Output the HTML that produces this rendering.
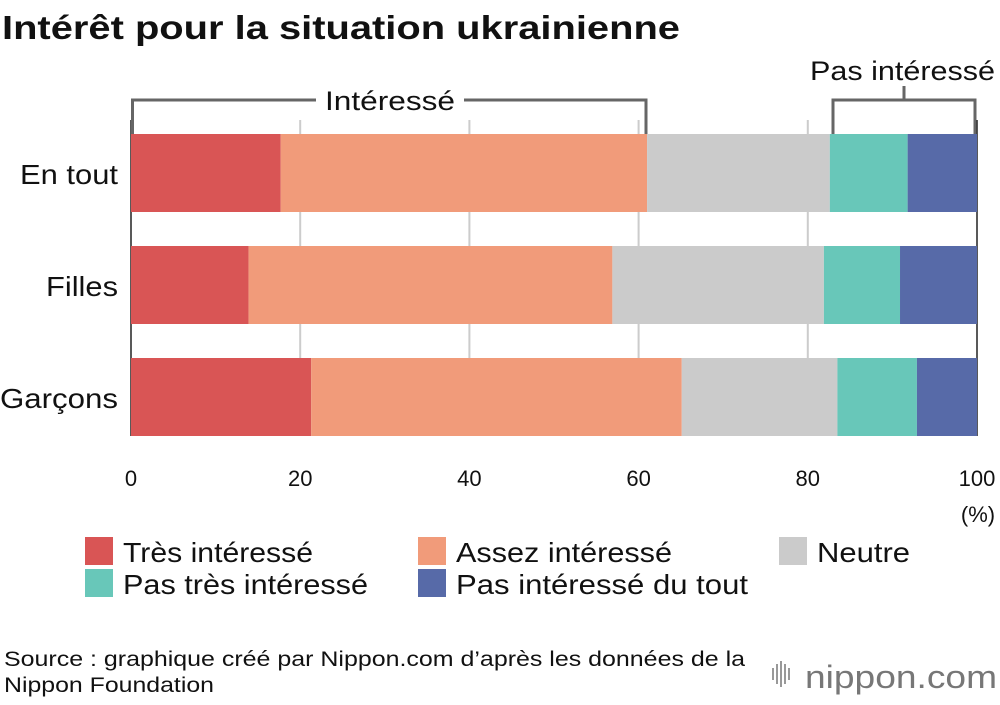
<!DOCTYPE html>
<html><head><meta charset="utf-8"><style>
body{margin:0;background:#fff;font-family:"Liberation Sans",Arial,sans-serif}
svg text{font-family:"Liberation Sans",Arial,sans-serif}
</style></head><body>
<svg id="c" width="1000" height="700" xmlns="http://www.w3.org/2000/svg">
<text x="2" y="39" font-size="33" font-weight="bold" fill="#111" textLength="678" lengthAdjust="spacingAndGlyphs">Intérêt pour la situation ukrainienne</text>
<g id="grid"></g>
<g id="bars"></g>
<g id="brackets" fill="none" stroke="#666" stroke-width="3">
<path d="M132.5,134 V100 H646 V134"/>
<path d="M833,134 V100 H975 V134 M904,100 V86"/>
</g>
<rect x="316" y="86" width="148" height="28" fill="#fff"/>
<text x="325" y="110" font-size="27" fill="#111" textLength="130" lengthAdjust="spacingAndGlyphs">Intéressé</text>
<text x="810" y="80" font-size="27" fill="#111" textLength="185" lengthAdjust="spacingAndGlyphs">Pas intéressé</text>
<g id="ticks"></g>
<text x="978" y="522" font-size="22" text-anchor="middle" fill="#111">(%)</text>
<g id="legend"></g>
<text x="4" y="666" font-size="21" fill="#111" textLength="741" lengthAdjust="spacingAndGlyphs">Source : graphique créé par Nippon.com d’après les données de la</text>
<text x="4" y="692" font-size="21" fill="#111" textLength="210" lengthAdjust="spacingAndGlyphs">Nippon Foundation</text>
<text x="997" y="688" font-size="32" fill="#777" text-anchor="end" textLength="192" lengthAdjust="spacingAndGlyphs">nippon.com</text>
<g fill="#999"><rect x="772" y="668" width="2" height="12"/><rect x="776" y="664" width="2" height="20"/><rect x="780" y="661" width="2" height="26"/><rect x="784" y="664" width="2" height="20"/><rect x="788" y="668" width="2" height="12"/></g>
</svg>
<script>
const categories=["En tout","Filles","Garçons"];
const series=["Très intéressé","Assez intéressé","Neutre","Pas très intéressé","Pas intéressé du tout"];
const tres=[17.7,13.9,21.3];
const assez=[43.3,43.0,43.8];
const neutre=[21.6,25.0,18.4];
const pasTres=[9.2,9.0,9.4];
const pasDuTout=[8.2,9.1,7.1];
const ticks=[0,20,40,60,80,100];
const colors=["#d95555","#f19b7a","#cbcbcb","#68c7b9","#576aa8"];
const NS="http://www.w3.org/2000/svg";
const x=v=>131+v*8.46;
const y=i=>134+i*112;
function mk(t,a,p){const e=document.createElementNS(NS,t);for(const k in a)e.setAttribute(k,a[k]);p.appendChild(e);return e;}
const grid=document.getElementById('grid'),bars=document.getElementById('bars'),tk=document.getElementById('ticks'),lg=document.getElementById('legend');
ticks.forEach(t=>{
 const l=mk('line',{x1:x(t),x2:x(t),y1:120,y2:436,stroke:t===0||t===100?'#222':'#ccc','stroke-width':t===0||t===100?1.5:2},grid);
 
 
 const s=mk('text',{x:x(t),y:486,'font-size':22,'text-anchor':'middle',fill:'#111'},tk);s.textContent=t;
 
 
});
const labW=[98,72,118];
const all=[tres,assez,neutre,pasTres,pasDuTout];
categories.forEach((c,i)=>{
 let acc=0;
 all.forEach((arr,j)=>{
  const r=mk('rect',{x:x(acc),y:y(i),width:x(acc+arr[i])-x(acc),height:78,fill:colors[j]},bars);
  
  
  acc+=arr[i];
 });
 const t=mk('text',{x:118-labW[i],y:y(i)+50,'font-size':28,fill:'#111',textLength:labW[i],lengthAdjust:'spacingAndGlyphs'},bars);t.textContent=c;
 
 
});
const lp=[[85,537],[418,537],[779,537],[85,569],[418,569]];
const lw=[190,216,93,245,292];
series.forEach((s,j)=>{
 const g=mk('g',{},lg);
 
 
 mk('rect',{x:lp[j][0],y:lp[j][1],width:28,height:28,fill:colors[j]},g);
 const t=mk('text',{x:lp[j][0]+38,y:lp[j][1]+25,'font-size':28,fill:'#111',textLength:lw[j],lengthAdjust:'spacingAndGlyphs'},g);t.textContent=s;
});
</script>
</body></html>
